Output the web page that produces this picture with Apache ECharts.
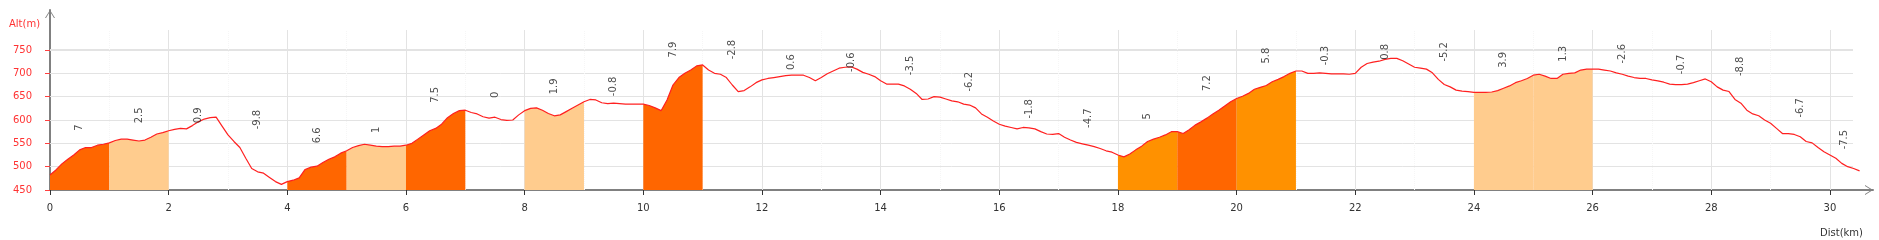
<!DOCTYPE html>
<html>
<head>
<meta charset="utf-8">
<script src="https://cdn.jsdelivr.net/npm/echarts@6/dist/echarts.min.js"></script>
<style>
html,body{margin:0;padding:0;background:#fff;}
#chart{width:1879px;height:240px;}
</style>
</head>
<body>
<div id="chart"></div>
<script>
// ---- data ----
const stepKm = 0.1; // altitude sampled every 100 m, from 0 km to 30.5 km
const altitudes = [
  482,493,506,516,525,536,541,541,546,548,
  551,556,559,559,557,555,557,563,570,573,
  577,580,582,581,588,596,602,605,606,587,
  568,554,541,518,496,489,486,477,468,462,
  468,471,476,494,499,501,509,516,521,529,
  534,541,545,548,546,544,543,543,544,544,
  546,550,559,568,577,582,591,605,614,620,
  621,616,613,607,604,606,601,599,600,611,
  620,625,626,621,614,609,611,618,625,632,
  639,644,643,637,635,636,635,634,634,634,
  634,631,626,620,643,675,691,700,707,716,
  718,707,700,698,691,675,661,663,671,680,
  686,689,691,693,695,696,696,696,691,684,
  691,699,705,711,713,714,709,702,698,693,
  684,677,677,677,673,666,657,644,645,650,
  649,645,641,639,634,632,626,613,606,598,
  591,587,584,581,584,583,581,575,570,569,
  571,563,557,552,549,546,543,539,534,531,
  525,521,527,536,544,554,559,563,568,575,
  575,571,579,589,596,604,613,621,630,639,
  646,651,657,666,670,674,682,687,693,700,
  705,705,700,700,701,700,699,699,699,698,
  700,713,721,724,726,730,732,732,727,720,
  713,711,709,701,687,676,671,664,662,661,
  659,659,659,660,663,668,673,680,684,689,
  696,698,694,689,689,698,700,701,707,709,
  709,709,707,705,701,698,694,691,689,689,
  686,684,681,677,676,676,677,680,684,688,
  682,671,664,661,644,636,621,613,609,600,
  593,582,571,571,569,564,554,551,541,532,
  525,518,507,500,496,491
];
// gradient (%) of each kilometre segment
const grades = [7,2.5,0.9,-9.8,6.6,1,7.5,0,1.9,-0.8,7.9,-2.8,0.6,-0.6,-3.5,-6.2,-1.8,-4.7,5,7.2,5.8,-0.3,0.8,-5.2,3.9,1.3,-2.6,-0.7,-8.8,-6.7,-7.5];
const xTicks = [0,2,4,6,8,10,12,14,16,18,20,22,24,26,28,30];
const xMinorTicks = [1,3,5,7,9,11,13,15,17,19,21,23,25,27,29];
const yTicks = [450,500,550,600,650,700,750];

// ---- layout constants ----
const PX_PER_KM = 59.33, PX_PER_M = 0.46667;
const GRID = {left:50, right:6, top:10, bottom:50};
const W = 1879, H = 240;
const xMin = 0, yMin = 450;
const xMax = xMin + (W - GRID.left - GRID.right) / PX_PER_KM;
const yMax = yMin + (H - GRID.top - GRID.bottom) / PX_PER_M;
const xGridEnd = xMin + 1803 / PX_PER_KM;   // horizontal grid lines stop short of the arrow
const yGridTop = yMin + 160 / PX_PER_M;     // vertical grid lines stop short of the arrow
const labelLift = 33;                        // metres above segment end-point max

const COLORS = {dark:'#FF6600', mid:'#FF9100', light:'#FFCC8E'};
function gradeColor(g){
  if (g >= 6) return COLORS.dark;
  if (g >= 4) return COLORS.mid;
  if (g >= 1) return COLORS.light;
  return null;
}
const FONT = 'DejaVu Sans';

const profile = altitudes.map((a,i)=>[+(i*stepKm).toFixed(2), a]);
const last = profile.length - 1;
const perKm = Math.round(1/stepKm);

const areaSeries = [];
const labelData = [];
grades.forEach((g,i)=>{
  const s = i*perKm, e = Math.min(s+perKm, last);
  const c = gradeColor(g);
  if (c) {
    areaSeries.push({
      type:'line', data: profile.slice(s, e+1), showSymbol:false, symbol:'none',
      lineStyle:{width:0, opacity:0}, areaStyle:{color:c, opacity:1, origin:'start'},
      z:2, silent:true, animation:false
    });
  }
  const mid = (profile[s][0] + profile[e][0]) / 2;
  const anchor = Math.max(altitudes[s], altitudes[e]) + labelLift;
  labelData.push([mid, anchor, g]);
});

const gridLines = [];
yTicks.filter(v=>v>yMin).forEach(v=>{
  gridLines.push([{coord:[xMin,v], lineStyle:{color:'#e3e3e3', width: v===750?2:1, type:'solid'}},{coord:[xGridEnd,v]}]);
});
xTicks.filter(v=>v>xMin).forEach(v=>{
  gridLines.push([{coord:[v,yMin], lineStyle:{color:'#e3e3e3', width:1, type:'solid'}},{coord:[v,yGridTop]}]);
});
xMinorTicks.forEach(v=>{
  gridLines.push([{coord:[v,yMin], lineStyle:{color:'#f6f6f6', width:1, type:'dotted'}},{coord:[v,yGridTop]}]);
});

const chevron = 'path://M0,8 L5,0 L10,8 L9,8 L5,1.6 L1,8 Z';

const chart = echarts.init(document.getElementById('chart'), null, {renderer:'canvas'});
chart.setOption({
  animation:false,
  backgroundColor:'#fff',
  title:[
    {text:'Alt(m)', left:4, top:14, textStyle:{color:'#ff3333', fontSize:10, fontWeight:'normal', fontFamily:FONT}},
    {text:'Dist(km)', right:11, top:223, textStyle:{color:'#333', fontSize:10, fontWeight:'normal', fontFamily:FONT}}
  ],
  grid:{left:GRID.left, right:GRID.right, top:GRID.top, bottom:GRID.bottom, containLabel:false},
  xAxis:{
    type:'value', min:xMin, max:xMax,
    axisLine:{show:true, lineStyle:{color:'#808080', width:2}, symbol:['none', chevron], symbolSize:[11,8], symbolOffset:[0,-4]},
    axisTick:{show:true, customValues:xTicks, length:5, lineStyle:{color:'#333', width:1}},
    axisLabel:{show:true, customValues:xTicks, margin:13, color:'#333', fontSize:10, fontFamily:FONT},
    splitLine:{show:false}
  },
  yAxis:{
    type:'value', min:yMin, max:yMax,
    axisLine:{show:true, lineStyle:{color:'#808080', width:2}, symbol:['none', chevron], symbolSize:[10,8], symbolOffset:[0,-4]},
    axisTick:{show:true, customValues:yTicks, length:5, lineStyle:{color:'#ff4040', width:1}},
    axisLabel:{show:true, customValues:yTicks, margin:18, color:'#ff3333', fontSize:10, fontFamily:FONT},
    splitLine:{show:false}
  },
  series:[
    {
      type:'line', data:profile, showSymbol:false, symbol:'none', lineStyle:{width:0, opacity:0}, silent:true, z:1,
      markLine:{silent:true, symbol:'none', z:1, animation:false, label:{show:false}, data:gridLines}
    },
    ...areaSeries,
    {
      type:'line', data:profile, showSymbol:false, symbol:'none', z:3, silent:true,
      lineStyle:{color:'#ff2020', width:1.2}
    },
    {
      type:'scatter', data:labelData, symbolSize:0, z:4, silent:true,
      label:{show:true, position:'inside', rotate:90, color:'#222', fontSize:10, fontFamily:FONT,
        formatter:(p)=>String(p.value[2])}
    }
  ]
});
</script>
</body>
</html>
